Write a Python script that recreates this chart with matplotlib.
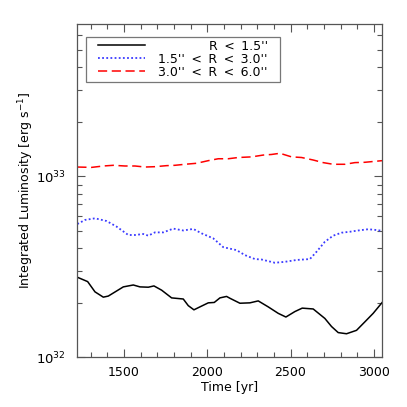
import numpy as np
import matplotlib
matplotlib.use('Agg')
import matplotlib.pyplot as plt
from matplotlib.path import Path
from matplotlib.ticker import MultipleLocator, LogLocator, NullFormatter

# luminosity in units of 1e32 erg/s
t_in = [1220, 1282, 1326, 1376, 1406, 1496, 1556, 1596, 1646, 1680, 1726, 1786,
        1856, 1886, 1920, 1956, 2006, 2042, 2076, 2116, 2136, 2196, 2256, 2306,
        2366, 2426, 2472, 2526, 2570, 2636, 2706, 2746, 2786, 2836, 2896, 2946,
        2996, 3050]
L_in = [2.77, 2.62, 2.30, 2.15, 2.18, 2.45, 2.51, 2.45, 2.44, 2.48, 2.35, 2.13,
        2.10, 1.93, 1.83, 1.90, 2.00, 2.01, 2.13, 2.17, 2.12, 1.99, 2.00, 2.05,
        1.90, 1.75, 1.67, 1.79, 1.87, 1.85, 1.64, 1.48, 1.37, 1.35, 1.41, 1.57,
        1.75, 2.01]

t_mid = [1220, 1266, 1326, 1396, 1456, 1526, 1566, 1616, 1646, 1686, 1736, 1796,
         1856, 1916, 1966, 2036, 2096, 2176, 2226, 2286, 2326, 2406, 2466, 2536,
         2616, 2656, 2706, 2756, 2806, 2856, 2906, 2966, 3006, 3050]
L_mid = [5.45, 5.74, 5.86, 5.66, 5.27, 4.74, 4.74, 4.80, 4.70, 4.90, 4.90, 5.14,
         5.02, 5.12, 4.84, 4.54, 4.06, 3.91, 3.67, 3.49, 3.47, 3.33, 3.37, 3.45,
         3.49, 3.83, 4.35, 4.70, 4.88, 4.94, 5.02, 5.10, 5.06, 5.00]

t_out = [1220, 1306, 1376, 1436, 1506, 1566, 1626, 1686, 1756, 1806, 1866, 1936,
         2006, 2066, 2126, 2186, 2266, 2336, 2386, 2436, 2506, 2566, 2636, 2696,
         2756, 2826, 2886, 2946, 3050]
L_out = [11.25, 11.2, 11.4, 11.5, 11.4, 11.4, 11.25, 11.3, 11.45, 11.5, 11.65, 11.8,
         12.2, 12.5, 12.5, 12.7, 12.8, 13.1, 13.2, 13.4, 12.8, 12.7, 12.3, 11.9,
         11.65, 11.65, 11.9, 11.95, 12.2]

sp = ' \u2009'
labels = ["R" + sp + "<" + sp + "1.5''",
          "1.5''" + sp + "<" + sp + "R" + sp + "<" + sp + "3.0''",
          "3.0''" + sp + "<" + sp + "R" + sp + "<" + sp + "6.0''"]

plt.rcParams['font.family'] = 'DejaVu Sans'
plt.rcParams['font.size'] = 9

fig = plt.figure(figsize=(4.07, 4.07), dpi=100)
ax = fig.add_axes([0.19, 0.122, 0.749, 0.818])

ax.plot(t_in, np.array(L_in) * 1e32, color='black', lw=1.1, label=labels[0])
ax.plot(t_mid, np.array(L_mid) * 1e32, color='#3a3aff', lw=1.3,
        linestyle=(0, (1, 1.3)), label=labels[1])
ax.plot(t_out, np.array(L_out) * 1e32, color='red', lw=1.1,
        linestyle=(0, (6, 3)), label=labels[2])

ax.set_yscale('log')
ax.set_xlim(1220, 3050)
ax.set_ylim(1e32, 6.9e33)
ax.xaxis.set_major_locator(MultipleLocator(500))
ax.xaxis.set_minor_locator(MultipleLocator(100))
ax.yaxis.set_minor_locator(LogLocator(base=10, subs=np.arange(2, 10)))
ax.yaxis.set_minor_formatter(NullFormatter())

ax.tick_params(which='both', direction='in', top=True, right=True, color='#555555')
ax.tick_params(which='major', length=6, width=0.8)
ax.tick_params(which='minor', length=3.5, width=0.8)
ax.tick_params(axis='x', which='major', pad=6)
ax.tick_params(axis='y', which='major', pad=8, labelsize=9.5)
for s in ax.spines.values():
    s.set_color('#555555')
    s.set_linewidth(0.9)

ax.set_xlabel('Time [yr]', labelpad=2)
ax.set_ylabel('Integrated Luminosity [erg s$^{-1}$]', labelpad=0)


def wide_box(x0, y0, width, height, mutation_size):
    # legend frame with extra room left and right only
    p = 0.7 * mutation_size
    return Path([(x0 - p, y0), (x0 + width + p, y0), (x0 + width + p, y0 + height),
                 (x0 - p, y0 + height), (x0 - p, y0)], closed=True)


leg = ax.legend(loc='upper left', bbox_to_anchor=(0.057, 0.963), borderaxespad=0,
                frameon=True, fancybox=False, edgecolor='#777777', framealpha=1,
                handlelength=3.76, labelspacing=0.0, borderpad=0.25,
                handletextpad=1.07, fontsize=9)
leg.get_frame().set_linewidth(0.9)
leg.get_frame().set_boxstyle(wide_box)

# right-align the legend labels by offsetting the shorter ones
fig.canvas.draw()
renderer = fig.canvas.get_renderer()
widths = [t.get_window_extent(renderer).width for t in leg.get_texts()]
for t, w in zip(leg.get_texts(), widths):
    t.set_position((max(widths) - w, 0))

fig.savefig('out.png', dpi=100)
